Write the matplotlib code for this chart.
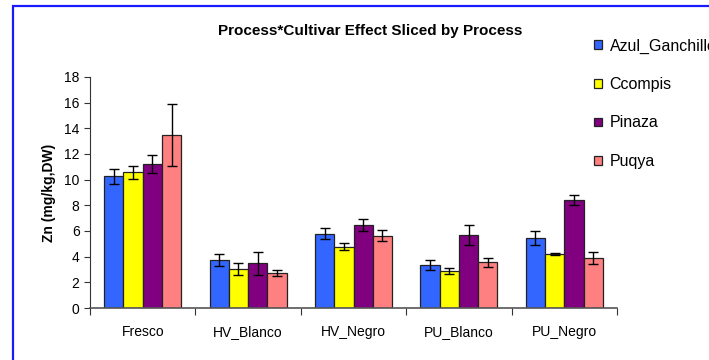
import matplotlib
matplotlib.use('Agg')
import matplotlib.pyplot as plt
from matplotlib.patches import Rectangle
import numpy as np

plt.rcParams['font.family'] = ['Liberation Sans', 'DejaVu Sans']

processes = ['Fresco', 'HV_Blanco', 'HV_Negro', 'PU_Blanco', 'PU_Negro']
cultivars = ['Azul_Ganchillo', 'Ccompis', 'Pinaza', 'Puqya']
colors = ['#3366FF', '#FFFF00', '#800080', '#FF8080']

# mean Zn per cultivar, one value per process
azul = [10.25, 3.72, 5.80, 3.38, 5.46]
ccompis = [10.56, 3.04, 4.79, 2.89, 4.21]
pinaza = [11.21, 3.49, 6.45, 5.72, 8.43]
puqya = [13.48, 2.73, 5.62, 3.56, 3.88]

azul_err = [0.60, 0.45, 0.45, 0.39, 0.55]
ccompis_err = [0.50, 0.48, 0.26, 0.22, 0.06]
pinaza_err = [0.70, 0.88, 0.48, 0.78, 0.38]
puqya_err = [2.45, 0.27, 0.43, 0.34, 0.48]

means = [azul, ccompis, pinaza, puqya]
errs = [azul_err, ccompis_err, pinaza_err, puqya_err]

W, H = 709, 360
fig = plt.figure(figsize=(W/100, H/100), dpi=100)
ax = fig.add_axes([90/W, 1-308/H, (617-90)/W, (308-77)/H])

x = np.arange(len(processes))
bw = 0.183
for i in range(len(cultivars)):
    pos = x + (i - 1.5)*bw
    ax.bar(pos, means[i], bw, color=colors[i], edgecolor='#222222', linewidth=0.9,
           label=cultivars[i], zorder=2)
    ax.errorbar(pos, means[i], yerr=errs[i], fmt='none', ecolor='black',
                elinewidth=1, capsize=3.5, capthick=1, zorder=3)

ax.set_xlim(-0.5, len(processes) - 0.5)
ax.set_ylim(0, 18)
ax.set_yticks(range(0, 19, 2))
ax.set_xticks(np.arange(-0.5, len(processes), 1.0))
ax.set_xticklabels([])
ax.set_xticks(x, minor=True)
ax.set_xticklabels(processes, minor=True)
ax.tick_params(axis='x', which='minor', length=0, pad=12, labelsize=10)
ax.tick_params(axis='x', which='major', length=5, direction='out', color='#333333')
ax.tick_params(axis='y', length=4, direction='out', labelsize=10, color='#333333')
for s in ['top', 'right']:
    ax.spines[s].set_visible(False)
ax.spines['left'].set_color('#333333')
ax.spines['bottom'].set_color('#555555')
ax.spines['bottom'].set_linewidth(1.2)
ax.set_ylabel('Zn (mg/kg,DW)', fontsize=10, fontweight='bold', labelpad=6)

fig.text(370/W, 1-31/H, 'Process*Cultivar Effect Sliced by Process', ha='center', va='center',
         fontsize=11, fontweight='bold')

fig.legend(loc='upper left', bbox_to_anchor=(588/W, 1-32/H), frameon=False,
           fontsize=11.5, handlelength=0.45, handleheight=0.45, handletextpad=0.5,
           labelspacing=1.47, borderaxespad=0)

# chart area border running off the right and bottom edges
fig.patches.append(Rectangle((13/W, -0.1), 1.2, 1 - 6/H + 0.1, transform=fig.transFigure,
                             fill=False, edgecolor='#1a1aff', linewidth=1.6))

fig.savefig('out.png', dpi=100)
